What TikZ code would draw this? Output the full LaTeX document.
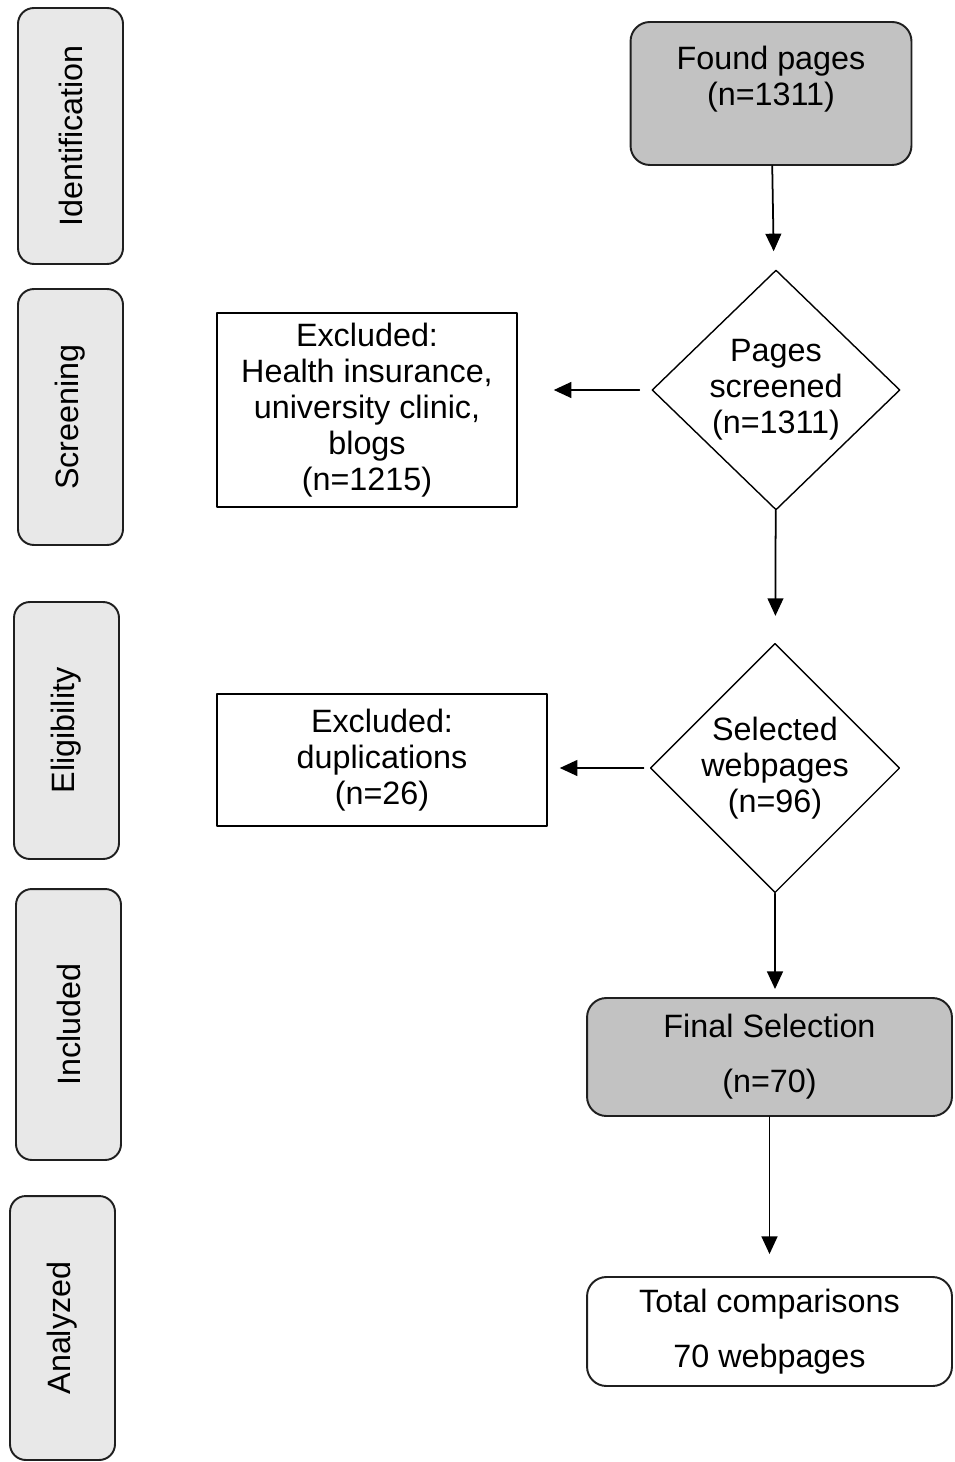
\documentclass[tikz,border=0pt]{standalone}
\usepackage{fontspec}
\setmainfont{Liberation Sans}
\usepackage{tikz}
\usetikzlibrary{arrows.meta,shapes.geometric}
\definecolor{ebebeb}{rgb}{0.91,0.91,0.91}
\definecolor{c0c0c0}{rgb}{0.76,0.76,0.76}
\definecolor{qqqqqq}{rgb}{0.12,0.12,0.12}

\begin{document}
\begin{tikzpicture}[line cap=round,line join=round,>={Triangle[length=10pt,width=9pt]},x=0.02cm,y=-0.02cm,
  txt/.style={font=\fontsize{18.4pt}{20.5pt}\selectfont,align=center,inner sep=0pt},
  phase/.style={txt,draw=qqqqqq,line width=1.1pt,fill=ebebeb,rounded corners=9pt,rotate=90,minimum height=2.1cm},
  graybox/.style={txt,draw=qqqqqq,line width=1.1pt,fill=c0c0c0,rounded corners=11pt,minimum width=7.3cm},
  whitebox/.style={txt,draw=qqqqqq,line width=1.1pt,fill=white,rounded corners=11pt,minimum width=7.3cm},
  exclbox/.style={txt,draw=black,line width=0.9pt},
  decide/.style={txt,draw=black,line width=0.8pt,diamond,minimum width=4.96cm},
  flow/.style={->,line width=1pt}]
\useasboundingbox (0,0) rectangle (955,1462);
% phases on the left
\node[phase,minimum width=5.12cm] (ident) at (70.5,136) {Identification};
\node[phase,minimum width=5.12cm] (screening) at (70.5,417) {Screening};
\node[phase,minimum width=5.14cm] (elig) at (66.5,730.5) {Eligibility};
\node[phase,minimum width=5.42cm] (incl) at (68.5,1024.5) {Included};
\node[phase,minimum width=5.28cm] (anal) at (62.5,1328) {Analyzed};
% flow
\node[graybox,minimum width=5.62cm,minimum height=2.86cm] (found) at (771,93.5) {Found pages\\(n=1311)\\~};
\node[decide,minimum height=4.8cm] (screen) at (776,390) {Pages\\screened\\(n=1311)};
\node[exclbox,minimum width=6cm,minimum height=3.88cm] (excl1) at (367,410) {Excluded:\\Health insurance,\\university clinic,\\blogs\\(n=1215)};
\node[decide,minimum height=4.86cm] (select) at (775,768) {Selected\\webpages\\(n=96)};
\node[exclbox,minimum width=6.6cm,minimum height=2.64cm] (excl2) at (382,760) {Excluded:\\duplications\\(n=26)};
\node[graybox,minimum height=2.36cm] (final) at (769.5,1057) {Final Selection\\[0.38cm](n=70)};
\node[whitebox,minimum height=2.18cm] (total) at (769.5,1331.5) {Total comparisons\\[0.38cm]70 webpages};
\draw[flow,shorten >=0.4cm] (found) -- (screen);
\draw[flow,shorten <=0.24cm,shorten >=0.72cm] (screen.west) -- (screen.west -| excl1.east);
\draw[flow,shorten >=0.54cm] (screen) -- (select);
\draw[flow,shorten <=0.12cm,shorten >=0.24cm] (select.west) -- (select.west -| excl2.east);
\draw[flow,shorten >=0.16cm] (select.south) -- (select.south |- final.north);
\draw[flow,shorten >=0.44cm] (final) -- (total);
\end{tikzpicture}
\end{document}
